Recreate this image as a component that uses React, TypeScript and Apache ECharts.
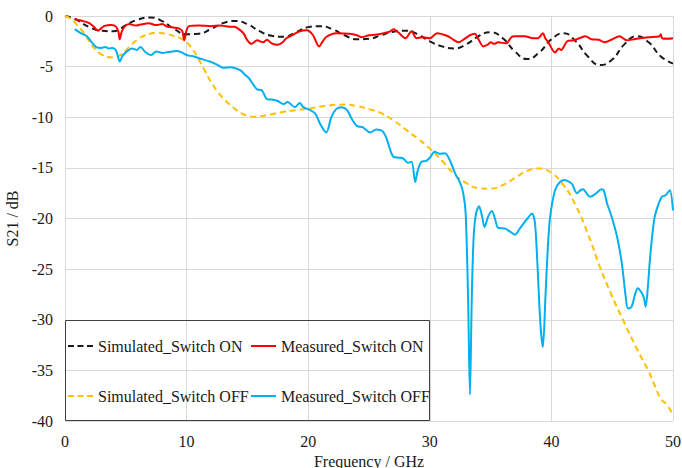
import React, { useEffect, useRef } from "react";
import * as echarts from "echarts";

const xTicks = [0, 10, 20, 30, 40, 50];
const yTicks = [0, -5, -10, -15, -20, -25, -30, -35, -40];

const simulatedOn: [number, number][] = [
  [0, 0], [0.5, -0.15], [1, -0.4], [2, -1.1], [3, -1.45], [4, -1.5], [4.5, -1.3], [5, -0.9], [6, -0.35], [7, -0.15],
  [8, -0.5], [9, -1.3], [10, -1.8], [11, -1.75], [12, -1.3], [13, -0.7], [14, -0.5], [15, -0.8], [16, -1.5], [17, -1.95],
  [18, -2.05], [19, -1.6], [20, -1.1], [21, -1.0], [22, -1.3], [23, -1.9], [24, -2.3], [25, -2.25], [26, -1.9], [27, -1.55],
  [28, -1.45], [29, -1.8], [30, -2.5], [31, -3.0], [32, -3.2], [33, -2.8], [34, -2.0], [35, -1.6], [36, -2.2], [37, -3.5],
  [38, -4.25], [39, -3.6], [40, -2.3], [41, -1.7], [42, -2.5], [43, -4.0], [44, -4.85], [45, -4.3], [46, -2.8], [47, -2.0],
  [48, -2.6], [49, -4.0], [50, -4.7],
];

const measuredOn: [number, number][] = [
  [0.8, -0.3], [1.3, -0.45], [2.0, -0.7], [2.4, -1.1], [2.7, -1.45], [3.0, -1.2], [3.2, -1.0], [3.8, -0.9], [4.2, -1.05],
  [4.4, -1.6], [4.5, -2.3], [4.65, -1.6], [4.9, -1.05], [5.3, -0.8], [5.8, -0.95], [6.2, -0.85], [6.9, -0.72], [7.5, -0.9],
  [8.0, -0.8], [8.4, -1.05], [9.0, -1.15], [9.4, -1.25], [9.65, -1.5], [9.8, -2.4], [9.95, -1.6], [10.2, -1.0], [11.0, -0.95],
  [12.0, -1.0], [12.8, -0.95], [13.5, -1.05], [13.9, -1.05], [14.3, -1.3], [14.7, -1.75], [15.0, -2.4], [15.35, -2.75],
  [15.8, -2.4], [16.3, -2.6], [16.6, -2.35], [17.0, -2.7], [17.5, -2.85], [17.9, -2.6], [18.2, -2.2], [18.7, -1.9],
  [19.3, -1.5], [19.9, -1.4], [20.4, -1.9], [20.9, -3.0], [21.2, -2.5], [21.5, -2.05], [22.3, -1.7], [23.4, -1.75],
  [24.0, -1.9], [24.4, -2.1], [25.0, -1.9], [25.5, -1.85], [26.2, -1.7], [26.7, -1.55], [27.0, -1.3], [27.4, -1.6],
  [28.0, -2.2], [28.5, -1.5], [28.9, -2.2], [29.4, -2.1], [30.0, -2.2], [30.6, -1.7], [31.4, -1.95], [31.9, -2.3],
  [32.35, -2.6], [32.8, -2.3], [33.3, -1.9], [33.7, -1.75], [34.0, -2.3], [34.4, -3.0], [34.8, -2.8], [35.0, -2.6],
  [35.3, -2.75], [35.6, -2.6], [36.3, -2.7], [36.7, -2.1], [37.0, -2.0], [37.8, -2.0], [38.5, -2.2], [38.9, -2.2],
  [39.3, -1.7], [39.5, -2.2], [39.75, -2.6], [40.3, -3.6], [40.6, -3.2], [40.8, -3.35], [41.3, -2.5], [41.8, -2.4],
  [42.3, -2.2], [42.8, -2.0], [43.3, -2.3], [43.9, -2.35], [44.4, -2.6], [45.0, -2.3], [45.6, -2.0], [46.2, -2.4],
  [46.8, -2.3], [47.3, -2.2], [48.0, -2.1], [48.9, -2.0], [49.0, -1.8], [49.1, -2.2], [49.6, -2.25], [50, -2.2],
];

const simulatedOff: [number, number][] = [
  [0, 0], [0.5, -0.3], [1, -0.9], [1.5, -1.6], [2, -2.5], [2.5, -3.3], [3, -3.8], [3.5, -4.05], [4, -4.1], [4.5, -3.9],
  [5, -3.4], [5.5, -2.8], [6, -2.3], [6.5, -1.95], [7, -1.75], [7.5, -1.65], [8, -1.7], [8.5, -1.8], [9, -2.0], [9.5, -2.2],
  [10, -2.6], [10.5, -3.3], [11, -4.3], [11.5, -5.4], [12, -6.5], [12.5, -7.4], [13, -8.1], [13.5, -8.7], [14, -9.2],
  [14.5, -9.6], [15, -9.85], [15.5, -9.95], [16, -9.9], [17, -9.7], [18, -9.45], [19, -9.3], [20, -9.15], [21, -8.95],
  [22, -8.8], [23, -8.75], [24, -8.9], [25, -9.2], [26, -9.6], [27, -10.3], [28, -11.2], [29, -12.1], [30, -13.1],
  [31, -14.3], [32, -15.6], [33, -16.5], [34, -17.0], [35, -17.05], [36, -16.7], [37, -16.0], [38, -15.3], [39, -15.05],
  [40, -15.5], [41, -16.7], [42, -18.7], [43, -21.5], [44, -24.8], [45, -27.7], [46, -30.3], [47, -32.8], [48, -35.1],
  [48.5, -36.5], [49, -37.8], [49.5, -38.4], [50, -39.4],
];

const measuredOff: [number, number][] = [
  [0.8, -1.3], [1.3, -1.7], [1.8, -2.0], [2.2, -2.6], [2.6, -3.1], [3.0, -3.15], [3.3, -3.05], [3.6, -3.2], [3.9, -3.15],
  [4.2, -3.4], [4.5, -4.5], [4.7, -4.0], [4.9, -3.7], [5.2, -3.4], [5.5, -3.2], [5.9, -3.35], [6.2, -3.05], [6.6, -3.55],
  [7.1, -3.85], [7.5, -3.5], [8.0, -3.65], [8.5, -3.55], [9.2, -3.45], [9.6, -3.6], [10.0, -3.85], [10.6, -4.0],
  [11.1, -4.2], [11.9, -4.5], [12.5, -4.8], [13.0, -5.1], [13.6, -5.05], [14.4, -5.35], [14.8, -5.8], [15.1, -6.1],
  [15.5, -6.8], [15.8, -7.25], [16.2, -7.35], [16.6, -8.2], [17.0, -8.25], [17.5, -8.4], [17.95, -8.7], [18.3, -8.5],
  [18.9, -9.0], [19.3, -8.6], [19.6, -9.0], [20.0, -9.2], [20.55, -9.6], [21.0, -10.7], [21.3, -11.3], [21.5, -11.5],
  [21.9, -10.0], [22.3, -9.2], [22.75, -9.0], [23.2, -9.3], [23.6, -10.2], [24.0, -10.85], [24.5, -11.0], [25.1, -11.5],
  [25.6, -11.2], [26.0, -11.3], [26.2, -11.5], [26.45, -12.1], [27.0, -13.9], [27.5, -14.0], [27.8, -14.05], [28.2, -14.5],
  [28.5, -14.4], [28.8, -16.4], [29.0, -15.3], [29.3, -14.4], [29.7, -14.3], [30.0, -14.0], [30.4, -13.4], [30.8, -13.6],
  [31.25, -13.55], [31.7, -14.4], [32.1, -15.6], [32.5, -16.5], [32.75, -17.5], [32.95, -19.5], [33.15, -28],
  [33.3, -37.4], [33.45, -28], [33.6, -22], [33.8, -19.5], [34.05, -18.8], [34.3, -19.8], [34.5, -20.85], [34.8, -19.8],
  [35.1, -19.25], [35.4, -20.2], [35.6, -20.9], [36.2, -21.0], [36.6, -21.3], [37.0, -21.6], [37.4, -21.0], [37.7, -20.5],
  [38.1, -19.9], [38.4, -19.5], [38.65, -20.5], [38.85, -24.5], [39.1, -30.5], [39.3, -32.7], [39.5, -28], [39.7, -23.0],
  [39.9, -19.8], [40.3, -17.2], [40.7, -16.4], [41.1, -16.2], [41.5, -16.4], [41.7, -16.6], [42.1, -17.5], [42.4, -17.2],
  [42.6, -17.1], [43.0, -17.7], [43.2, -17.85], [43.7, -17.5], [44.1, -17.1], [44.3, -17.2], [44.6, -18.6], [44.9, -19.6],
  [45.4, -21.8], [45.8, -24.5], [46.1, -27.6], [46.3, -28.9], [46.6, -28.7], [46.9, -27.4], [47.1, -26.9], [47.4, -27.3],
  [47.6, -27.8], [47.75, -28.7], [47.95, -26.5], [48.1, -24.1], [48.3, -21.6], [48.5, -19.8], [48.8, -18.6], [49.1, -17.85],
  [49.4, -17.7], [49.6, -17.4], [49.75, -17.2], [50, -19.2],
];

const seriesNames = ["Simulated_Switch ON", "Measured_Switch ON", "Simulated_Switch OFF", "Measured_Switch OFF"];

const FONT = "Times New Roman, Liberation Serif, serif";
const DASH_ICON = "path://M0,0h6v2h-6zM9.5,0h6v2h-6zM19,0h6v2h-6z";
const SOLID_ICON = "path://M0,0h25v2h-25z";

export default function App() {
  const ref = useRef<HTMLDivElement>(null);
  useEffect(() => {
    if (!ref.current) return;
    const chart = echarts.init(ref.current, undefined, { renderer: "svg" });
    const legendText = { fontFamily: FONT, fontSize: 16, color: "#1a1a1a" };
    const mkLegend = (name: string, icon: string, color: string, left: number, top: number) => ({
      show: true,
      data: [{ name, icon, itemStyle: { color, borderWidth: 0 } }],
      left,
      top,
      padding: 0,
      itemWidth: 25,
      itemHeight: 2,
      textStyle: legendText,
      selectedMode: false,
      z: 10,
    });
    chart.setOption({
      animation: false,
      backgroundColor: "#ffffff",
      textStyle: { fontFamily: FONT },
      grid: { left: 65, right: 9, top: 16, bottom: 47, containLabel: false, outerBoundsMode: "none" },
      xAxis: {
        type: "value",
        min: xTicks[0],
        max: xTicks[xTicks.length - 1],
        interval: 10,
        name: "Frequency / GHz",
        nameLocation: "middle",
        nameGap: 31,
        nameTextStyle: { fontFamily: FONT, fontSize: 16, color: "#1a1a1a" },
        axisLine: { show: true, lineStyle: { color: "#d9d9d9", width: 1 } },
        axisTick: { show: false },
        axisLabel: { fontFamily: FONT, fontSize: 16, color: "#1a1a1a", margin: 12 },
        splitLine: { show: true, lineStyle: { color: "#d9d9d9", width: 1 } },
      },
      yAxis: {
        type: "value",
        min: yTicks[yTicks.length - 1],
        max: yTicks[0],
        interval: 5,
        name: "S21 / dB",
        nameLocation: "middle",
        nameGap: 43,
        nameRotate: 90,
        nameTextStyle: { fontFamily: FONT, fontSize: 16, color: "#1a1a1a" },
        axisLine: { show: true, onZero: false, lineStyle: { color: "#d9d9d9", width: 1 } },
        axisTick: { show: false },
        axisLabel: { fontFamily: FONT, fontSize: 16, color: "#1a1a1a", margin: 12 },
        splitLine: { show: true, lineStyle: { color: "#d9d9d9", width: 1 } },
      },
      legend: [
        mkLegend(seriesNames[0], DASH_ICON, "#1a1a1a", 68, 338),
        mkLegend(seriesNames[1], SOLID_ICON, "#ff0000", 251, 338),
        mkLegend(seriesNames[2], DASH_ICON, "#ffc000", 68, 388),
        mkLegend(seriesNames[3], SOLID_ICON, "#00b0f0", 251, 388),
      ],
      graphic: [
        {
          type: "rect",
          shape: { x: 65.5, y: 320.5, width: 364, height: 100 },
          style: { fill: "none", stroke: "#404040", lineWidth: 1 },
          z: 5,
          silent: true,
        },
      ],
      series: [
        {
          name: seriesNames[0],
          type: "line",
          data: simulatedOn,
          smooth: true,
          showSymbol: false,
          symbol: "none",
          lineStyle: { color: "#1a1a1a", width: 2, type: [6, 4] },
          itemStyle: { color: "#1a1a1a" },
          z: 3,
        },
        {
          name: seriesNames[1],
          type: "line",
          data: measuredOn,
          smooth: 0.3,
          showSymbol: false,
          symbol: "none",
          lineStyle: { color: "#ff0000", width: 2 },
          itemStyle: { color: "#ff0000" },
          z: 4,
        },
        {
          name: seriesNames[2],
          type: "line",
          data: simulatedOff,
          smooth: true,
          showSymbol: false,
          symbol: "none",
          lineStyle: { color: "#ffc000", width: 2, type: [6, 4] },
          itemStyle: { color: "#ffc000" },
          z: 3,
        },
        {
          name: seriesNames[3],
          type: "line",
          data: measuredOff,
          smooth: 0.3,
          showSymbol: false,
          symbol: "none",
          lineStyle: { color: "#00b0f0", width: 2 },
          itemStyle: { color: "#00b0f0" },
          z: 4,
        },
      ],
    });
    return () => chart.dispose();
  }, []);
  return (
    <div
      ref={ref}
      style={{ position: "fixed", left: 0, top: 0, width: 682, height: 468, background: "#fff" }}
    />
  );
}
